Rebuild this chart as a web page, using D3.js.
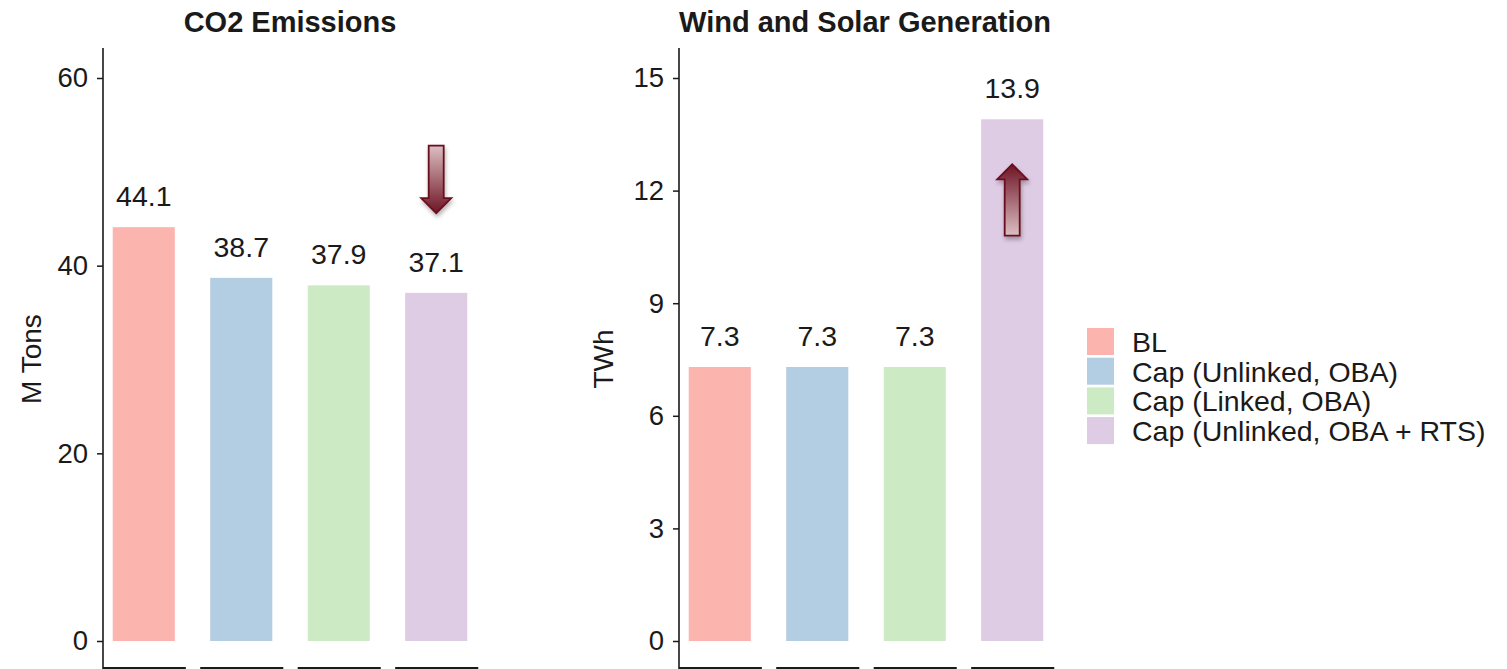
<!DOCTYPE html>
<html lang="en">
  <head>
    <meta charset="UTF-8" />
    <title>CO2 and Wind/Solar</title>
    <script src="https://cdn.jsdelivr.net/npm/d3@7"></script>
    <style>
      body { margin: 0; background: #fff; }
      text { font-family: "Liberation Sans", Arial, sans-serif; fill: #1a1a1a; }
    </style>
  </head>
  <body>
    <div id="chart"></div>
    <script>
      // data
      const scenarios = ["BL", "Cap (Unlinked, OBA)", "Cap (Linked, OBA)", "Cap (Unlinked, OBA + RTS)"];
      const colors = ["#FBB4AE", "#B3CDE3", "#CCEBC5", "#DECBE4"];
      const co2 = [44.1, 38.7, 37.9, 37.1];
      const wind = [7.3, 7.3, 7.3, 13.9];
      const co2Ticks = [0, 20, 40, 60];
      const windTicks = [0, 3, 6, 9, 12, 15];

      const W = 1507, H = 669;
      const svg = d3.select("#chart").append("svg")
        .attr("width", W).attr("height", H);

      const defs = svg.append("defs");
      const gDown = defs.append("linearGradient").attr("id", "gDown")
        .attr("x1", 0).attr("y1", 0).attr("x2", 0).attr("y2", 1);
      gDown.append("stop").attr("offset", "0%").attr("stop-color", "#dcbfc3");
      gDown.append("stop").attr("offset", "100%").attr("stop-color", "#6e1424");
      const gUp = defs.append("linearGradient").attr("id", "gUp")
        .attr("x1", 0).attr("y1", 1).attr("x2", 0).attr("y2", 0);
      gUp.append("stop").attr("offset", "0%").attr("stop-color", "#dcbfc3");
      gUp.append("stop").attr("offset", "100%").attr("stop-color", "#6e1424");
      const shadow = defs.append("filter").attr("id", "shadow")
        .attr("x", "-50%").attr("y", "-50%").attr("width", "200%").attr("height", "200%");
      shadow.append("feDropShadow").attr("dx", 1).attr("dy", 3).attr("stdDeviation", 2)
        .attr("flood-color", "#000").attr("flood-opacity", 0.3);

      const axisTop = 48, base = 641;

      function panel(opts) {
        const g = svg.append("g");
        const x = d3.scaleBand().domain(scenarios)
          .range([opts.x0, opts.x0 + 374])
          .paddingInner(0.363).paddingOuter(0.1);
        const y = d3.scaleLinear().domain([0, opts.max]).range([base, 78]);

        // bars
        g.selectAll("rect.bar").data(opts.values).join("rect")
          .attr("x", (d, i) => x(scenarios[i]))
          .attr("y", d => y(d))
          .attr("width", x.bandwidth())
          .attr("height", d => y(0) - y(d))
          .attr("fill", (d, i) => colors[i]);

        // value labels
        g.selectAll("text.val").data(opts.values).join("text")
          .attr("x", (d, i) => x(scenarios[i]) + x.bandwidth() / 2)
          .attr("y", d => y(d) - 21)
          .attr("text-anchor", "middle")
          .attr("font-size", 28.5)
          .text(d => d.toFixed(1));

        // y axis
        const ax = g.append("g").attr("transform", `translate(${opts.x0},0)`)
          .call(d3.axisLeft(y).tickValues(opts.ticks).tickSize(6).tickPadding(9));
        ax.select(".domain").remove();
        ax.selectAll(".tick line").attr("stroke", "#1a1a1a").attr("stroke-width", 1.5);
        ax.selectAll(".tick text").attr("font-size", 27.5).attr("fill", "#1a1a1a")
          .attr("font-family", "Liberation Sans, Arial, sans-serif");
        g.append("line").attr("x1", opts.x0).attr("x2", opts.x0)
          .attr("y1", axisTop).attr("y2", H).attr("stroke", "#1a1a1a").attr("stroke-width", 1.6);

        // bottom axis segments
        g.selectAll("line.seg").data(scenarios).join("line")
          .attr("x1", d => Math.max(opts.x0, x(d) - 10))
          .attr("x2", d => x(d) + x.bandwidth() + 11)
          .attr("y1", 668).attr("y2", 668)
          .attr("stroke", "#1a1a1a").attr("stroke-width", 2);

        // y title
        g.append("text")
          .attr("transform", `translate(${opts.ytX},359) rotate(-90)`)
          .attr("text-anchor", "middle").attr("font-size", 28)
          .text(opts.ytitle);

        // title
        g.append("text")
          .attr("x", opts.titleX).attr("y", 32)
          .attr("text-anchor", "middle").attr("font-size", 29).attr("font-weight", "bold")
          .text(opts.title);

        // arrow annotation on last scenario
        const cx = x(scenarios[3]) + x.bandwidth() / 2;
        const a0 = y(opts.arrow[0]), a1 = y(opts.arrow[1]);
        const dir = a1 > a0 ? 1 : -1;
        const hw = 7.5, hh = 15, headH = 15;
        const neck = a1 - dir * headH;
        const pts = [
          [cx - hw, a0], [cx + hw, a0], [cx + hw, neck], [cx + hh, neck],
          [cx, a1], [cx - hh, neck], [cx - hw, neck]
        ];
        g.append("path")
          .attr("d", "M" + pts.map(p => p.join(",")).join("L") + "Z")
          .attr("fill", dir > 0 ? "url(#gDown)" : "url(#gUp)")
          .attr("stroke", "#6a0f1e").attr("stroke-width", 1.8)
          .attr("filter", "url(#shadow)");
      }

      panel({ x0: 103, max: 60, values: co2, ticks: co2Ticks, ytitle: "M Tons", ytX: 41,
        title: "CO2 Emissions", titleX: 290, arrow: [52.8, 45.6] });
      panel({ x0: 679, max: 15, values: wind, ticks: windTicks, ytitle: "TWh", ytX: 613,
        title: "Wind and Solar Generation", titleX: 865, arrow: [10.8, 12.7] });

      // legend
      const leg = svg.append("g").attr("transform", "translate(1087,328)");
      scenarios.forEach((s, i) => {
        leg.append("rect").attr("x", 0).attr("y", i * 29.7)
          .attr("width", 27).attr("height", 27).attr("fill", colors[i]);
        leg.append("text").attr("x", 45).attr("y", i * 29.7 + 24)
          .attr("font-size", 28.5).text(s);
      });
    </script>
  </body>
</html>
